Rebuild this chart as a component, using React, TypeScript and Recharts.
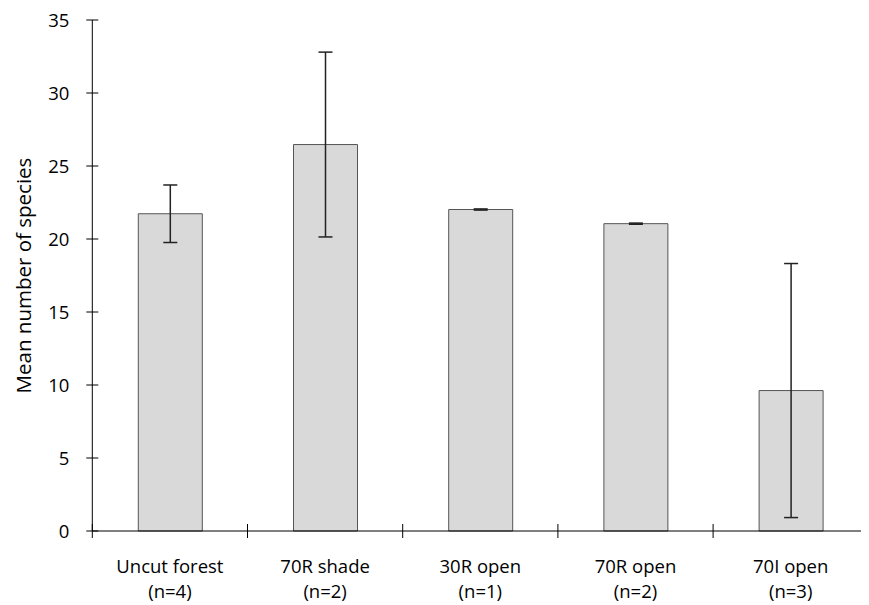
import React from 'react';
import { BarChart, Bar, XAxis, YAxis, ErrorBar } from 'recharts';

const categories = ['Uncut forest', '70R shade', '30R open', '70R open', '70I open'];
const sampleSizes = ['(n=4)', '(n=2)', '(n=1)', '(n=2)', '(n=3)'];
const means = [21.73, 26.47, 22.02, 21.05, 9.62];
const errors = [1.97, 6.33, 0.04, 0.04, 8.7];
const yTicks = [0, 5, 10, 15, 20, 25, 30, 35];
const yLabel = 'Mean number of species';

const data = categories.map((c, i) => ({ category: c, n: sampleSizes[i], mean: means[i], err: errors[i] }));

const FONT = '"Open Sans", sans-serif';

const XTick = (props: any) => {
  const { x, y, payload, index } = props;
  const off = payload && typeof payload.offset === 'number' ? payload.offset : 0;
  const n = sampleSizes[index] ?? '';
  const last = index === categories.length - 1;
  return (
    <g>
      <line x1={x - off} x2={x - off} y1={y - 7} y2={y + 7} stroke="#000" strokeWidth={1} />
      {last && <line x1={x + off} x2={x + off} y1={y - 7} y2={y + 7} stroke="#000" strokeWidth={1} />}
      <text x={x} y={y + 42} textAnchor="middle" fontFamily={FONT} fontSize={18.5} fill="#000">
        {payload.value}
      </text>
      <text x={x} y={y + 67} textAnchor="middle" fontFamily={FONT} fontSize={18.5} fill="#000">
        {n}
      </text>
    </g>
  );
};

const YTick = (props: any) => {
  const { x, y, payload } = props;
  const ax = x + 23;
  return (
    <g>
      <line x1={ax - 6} x2={ax + 6} y1={y} y2={y} stroke="#000" strokeWidth={1} />
      <text x={x} y={y} dy="0.36em" textAnchor="end" fontFamily={FONT} fontSize={18.5} fill="#000">
        {payload.value}
      </text>
    </g>
  );
};

export default function App() {
  return (
    <div style={{ margin: '-8px 0 0 -8px', width: 869, height: 605 }}>
      <BarChart
        width={869}
        height={605}
        data={data}
        margin={{ top: 20, right: 0.7, left: 8.3, bottom: 0 }}
        style={{ fontFamily: FONT }}
      >
        <XAxis
          dataKey="category"
          type="category"
          interval={0}
          height={74}
          tickLine={false}
          tickSize={0}
          tickMargin={0}
          axisLine={{ stroke: '#000', strokeWidth: 1 }}
          tick={<XTick />}
        />
        <YAxis
          type="number"
          domain={[0, 35]}
          ticks={yTicks}
          interval={0}
          width={84}
          tickLine={false}
          tickSize={0}
          tickMargin={23}
          axisLine={{ stroke: '#000', strokeWidth: 1 }}
          tick={<YTick />}
          label={{
            value: yLabel,
            angle: -90,
            position: 'center',
            dx: -27,
            style: { fontFamily: FONT, fontSize: 20.5, fill: '#000' },
          }}
        />
        <Bar dataKey="mean" fill="#d9d9d9" stroke="#555" strokeWidth={1} barSize={64} isAnimationActive={false}>
          <ErrorBar dataKey="err" width={7} stroke="#222" strokeWidth={1.5} isAnimationActive={false} />
        </Bar>
      </BarChart>
    </div>
  );
}
